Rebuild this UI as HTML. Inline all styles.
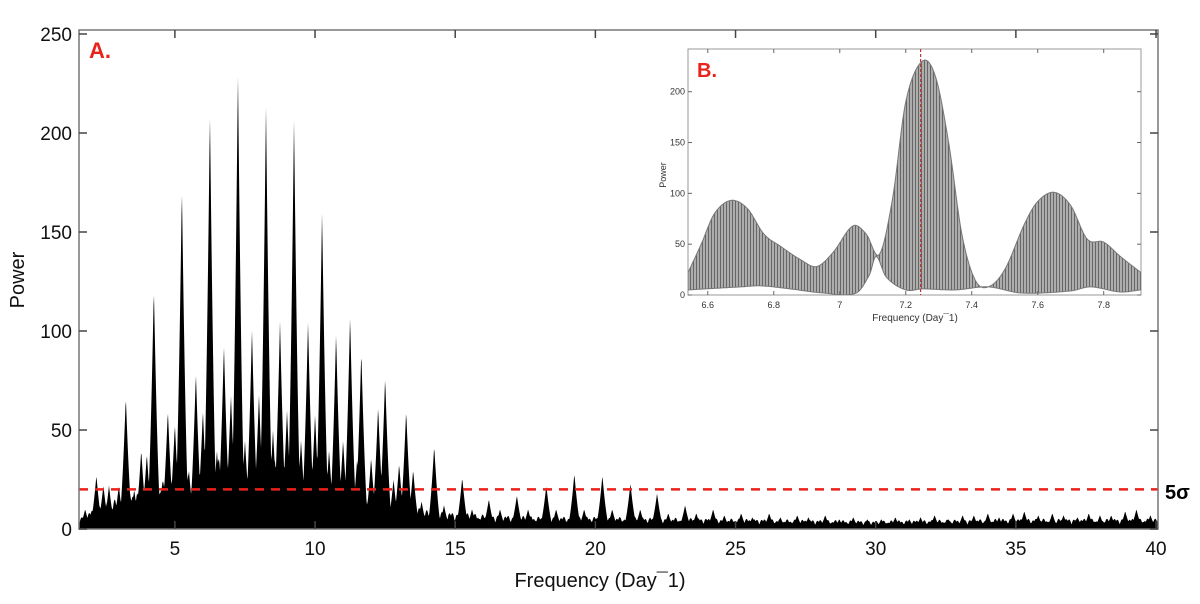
<!DOCTYPE html>
<html><head><meta charset="utf-8"><style>
body{margin:0;background:#fff;width:1200px;height:599px;overflow:hidden;font-family:"Liberation Sans",sans-serif}
svg text{font-family:"Liberation Sans",sans-serif}
</style></head><body>
<svg id="chart" width="1200" height="599" viewBox="0 0 1200 599" xmlns="http://www.w3.org/2000/svg">
<defs>
<clipPath id="mainclip"><rect x="79" y="30" width="1079" height="499"/></clipPath>
<clipPath id="insetclip"><rect x="688" y="49" width="453" height="246"/></clipPath>
<pattern id="vlines" width="3" height="10" patternUnits="userSpaceOnUse"><rect width="3" height="10" fill="#adadad"/><rect width="1" height="10" fill="#666"/></pattern>
</defs>
<g id="main"></g>
<g id="inset"></g>
</svg>
<script>
const NS='http://www.w3.org/2000/svg';
// main periodogram data
const peakFreq=[1.8,2.2,2.45,2.65,3.0,3.25,3.55,3.8,4.0,4.25,4.5,4.75,5.0,5.25,5.5,5.75,6.0,6.25,6.5,6.75,7.0,7.25,7.5,7.75,8.0,8.25,8.5,8.75,9.0,9.25,9.5,9.75,10.0,10.25,10.5,10.75,11.0,11.25,11.5,11.65,12.0,12.25,12.5,12.8,13.0,13.25,13.5,13.8,14.25,14.6,15.25,15.6,16.2,16.6,17.2,17.6,18.25,18.6,19.25,19.6,20.25,20.6,21.25,21.6,22.2,22.6,23.2,23.6,24.2,24.6,25.2,25.6,26.2,26.6,27.2,27.6,28.2,28.7,29.2,29.7,30.2,30.7,31.2,31.6,32.1,32.6,33.1,33.5,34.0,34.4,34.9,35.3,35.8,36.3,36.7,37.2,37.6,38.0,38.4,38.9,39.3,39.8];
const peakPow=[10,27,22,22,22,67,20,40,38,122,20,60,53,173,30,79,60,211,40,93,68,231,45,101,68,214,50,105,60,207,45,105,58,161,40,99,45,108,35,90,36,62,77,25,33,60,30,14,42,12,26,10,15,10,17,10,22,10,28,10,27,10,23,10,18,8,12,8,10,7,8,6,8,6,7,6,7,5,6,5,5,6,5,6,7,5,7,7,8,6,8,9,7,8,7,6,8,7,7,9,10,7];
const floorFreq=[1.58,2.0,3.0,4.0,5.0,6.0,7.0,8.0,9.0,10.0,11.0,12.0,13.0,14.0,15.0,16.0,18.0,20.0,25.0,30.0,35.0,40.07];
const floorPow=[5,9,15,20,25,32,35,35,32,28,22,17,13,9,8,7,6,6,5,4,5,5];
const thresholdPow=20;
const xTicks=[5,10,15,20,25,30,35,40];
const yTicks=[0,50,100,150,200,250];
// inset data
const insetUpperF=[6.54,6.58,6.62,6.67,6.72,6.77,6.82,6.88,6.93,6.98,7.04,7.08,7.12,7.16,7.2,7.25,7.29,7.33,7.37,7.41,7.45,7.5,7.56,7.6,7.65,7.7,7.75,7.8,7.85,7.913];
const insetUpperP=[22,50,80,93,85,60,48,35,28,42,68,60,40,95,190,230,215,150,60,15,8,25,70,92,101,88,55,52,38,22];
const insetLowerF=[6.54,6.7,6.76,6.85,6.95,7.05,7.09,7.11,7.14,7.2,7.25,7.35,7.45,7.55,7.7,7.76,7.85,7.913];
const insetLowerP=[5,8,9,6,2,2,20,38,18,5,6,5,8,2,4,8,3,5];
const insetXTicks=[6.6,6.8,7.0,7.2,7.4,7.6,7.8];
const insetXLabels=['6.6','6.8','7','7.2','7.4','7.6','7.8'];
const insetYTicks=[0,50,100,150,200];
const insetMarker=7.245;

const X=f=>79+(f-1.58)*(1079/(40.07-1.58));
const Y=p=>529-p*(495/250);
const IX=f=>688+(f-6.54)*(453/(7.913-6.54));
const IY=p=>295-p*(246/242);
function interp(xs,ys,x){if(x<=xs[0])return ys[0];for(let i=1;i<xs.length;i++){if(x<=xs[i]){const t=(x-xs[i-1])/(xs[i]-xs[i-1]);return ys[i-1]+t*(ys[i]-ys[i-1]);}}return ys[ys.length-1];}
function spline(xs,ys,x){
  const n=xs.length;if(x<=xs[0])return ys[0];if(x>=xs[n-1])return ys[n-1];
  let i=1;while(x>xs[i])i++;
  const x0=xs[i-1],x1=xs[i],y0=ys[i-1],y1=ys[i],h=x1-x0,t=(x-x0)/h;
  const m=k=>{if(k<=0)return (ys[1]-ys[0])/(xs[1]-xs[0]);if(k>=n-1)return (ys[n-1]-ys[n-2])/(xs[n-1]-xs[n-2]);return (ys[k+1]-ys[k-1])/(xs[k+1]-xs[k-1]);};
  const m0=m(i-1)*h,m1=m(i)*h,t2=t*t,t3=t2*t;
  return (2*t3-3*t2+1)*y0+(t3-2*t2+t)*m0+(-2*t3+3*t2)*y1+(t3-t2)*m1;
}
function mk(tag,attrs,parent){const e=document.createElementNS(NS,tag);for(const k in attrs)e.setAttribute(k,attrs[k]);parent.appendChild(e);return e;}

const main=document.getElementById('main');
// series
let d='M'+X(1.58)+','+Y(0);
for(let px=79;px<=1158;px+=0.5){
  const f=1.58+(px-79)*(40.07-1.58)/1079;
  const base=interp(floorFreq,floorPow,f);
  let v=base*(0.45+0.35*Math.abs(Math.cos(f*11))+0.25*Math.abs(Math.sin(f*23.7)));
  for(let i=0;i<peakFreq.length;i++){const df=Math.abs(f-peakFreq[i]);if(df<0.28){const q=1-df/0.28;v=Math.max(v,peakPow[i]*Math.pow(q,1.7));}}
  d+='L'+px+','+Y(v).toFixed(1);
}
d+='L1158,'+Y(0)+'Z';
const area=mk('path',{d:d,fill:'#000','clip-path':'url(#mainclip)'},main);


// threshold
const th=mk('line',{x1:79,x2:1158,y1:Y(thresholdPow),y2:Y(thresholdPow),stroke:'#e8231b','stroke-width':2.5,'stroke-dasharray':'9,7'},main);


// frame
const fr=mk('rect',{x:79,y:30,width:1079,height:499,fill:'none',stroke:'#777','stroke-width':1.5},main);


xTicks.forEach(t=>{
  mk('line',{x1:X(t),x2:X(t),y1:529,y2:521,stroke:'#444','stroke-width':1.5},main);
  mk('line',{x1:X(t),x2:X(t),y1:30,y2:38,stroke:'#444','stroke-width':1.5},main);
  const tx=mk('text',{x:X(t),y:555,'font-size':19,'text-anchor':'middle',fill:'#111'},main);tx.textContent=t;
  
  
});
yTicks.forEach(t=>{
  mk('line',{x1:79,x2:87,y1:Y(t),y2:Y(t),stroke:'#444','stroke-width':1.5},main);
  mk('line',{x1:1150,x2:1158,y1:Y(t),y2:Y(t),stroke:'#444','stroke-width':1.5},main);
  const tx=mk('text',{x:72,y:Y(t)+7,'font-size':19,'text-anchor':'end',fill:'#111'},main);tx.textContent=t;
  
  
});
let t;
t=mk('text',{x:600,y:587,'font-size':20,'text-anchor':'middle',fill:'#111'},main);t.textContent='Frequency (Day¯1)';


t=mk('text',{x:24,y:280,'font-size':20,'text-anchor':'middle',fill:'#111',transform:'rotate(-90 24 280)'},main);t.textContent='Power';


t=mk('text',{x:89,y:58,'font-size':22,'font-weight':'bold',fill:'#e8231b'},main);t.textContent='A.';


t=mk('text',{x:1165,y:499,'font-size':20,'font-weight':'bold',fill:'#000'},main);t.textContent='5σ';



// inset
const inset=document.getElementById('inset');
const bg=mk('rect',{x:688,y:49,width:453,height:246,fill:'#fff',stroke:'#999','stroke-width':1},inset);


let id='';
for(let px=688;px<=1141;px+=1){const f=6.54+(px-688)*(7.913-6.54)/453;id+=(id?'L':'M')+px+','+IY(Math.max(0,spline(insetUpperF,insetUpperP,f))).toFixed(1);}
for(let px=1141;px>=688;px-=1){const f=6.54+(px-688)*(7.913-6.54)/453;id+='L'+px+','+IY(Math.max(0,spline(insetLowerF,insetLowerP,f))).toFixed(1);}
id+='Z';
const ia=mk('path',{d:id,fill:'url(#vlines)',stroke:'#777','stroke-width':1,'clip-path':'url(#insetclip)'},inset);


const mkl=mk('line',{x1:IX(insetMarker),x2:IX(insetMarker),y1:49,y2:295,stroke:'#c0392b','stroke-width':1.2,'stroke-dasharray':'3,2'},inset);


insetXTicks.forEach((v,i)=>{
  mk('line',{x1:IX(v),x2:IX(v),y1:295,y2:291,stroke:'#666'},inset);
  mk('line',{x1:IX(v),x2:IX(v),y1:49,y2:53,stroke:'#666'},inset);
  const tx=mk('text',{x:IX(v),y:308,'font-size':9,'text-anchor':'middle',fill:'#333'},inset);tx.textContent=insetXLabels[i];
  
  
});
insetYTicks.forEach(v=>{
  mk('line',{x1:688,x2:692,y1:IY(v),y2:IY(v),stroke:'#666'},inset);
  mk('line',{x1:1137,x2:1141,y1:IY(v),y2:IY(v),stroke:'#666'},inset);
  const tx=mk('text',{x:685,y:IY(v)+3,'font-size':9,'text-anchor':'end',fill:'#333'},inset);tx.textContent=v;
  
  
});
t=mk('text',{x:915,y:321,'font-size':10,'text-anchor':'middle',fill:'#333'},inset);t.textContent='Frequency (Day¯1)';


t=mk('text',{x:666,y:175,'font-size':9,'text-anchor':'middle',fill:'#333',transform:'rotate(-90 666 175)'},inset);t.textContent='Power';


t=mk('text',{x:697,y:77,'font-size':20,'font-weight':'bold',fill:'#e8231b'},inset);t.textContent='B.';


</script>
</body></html>
